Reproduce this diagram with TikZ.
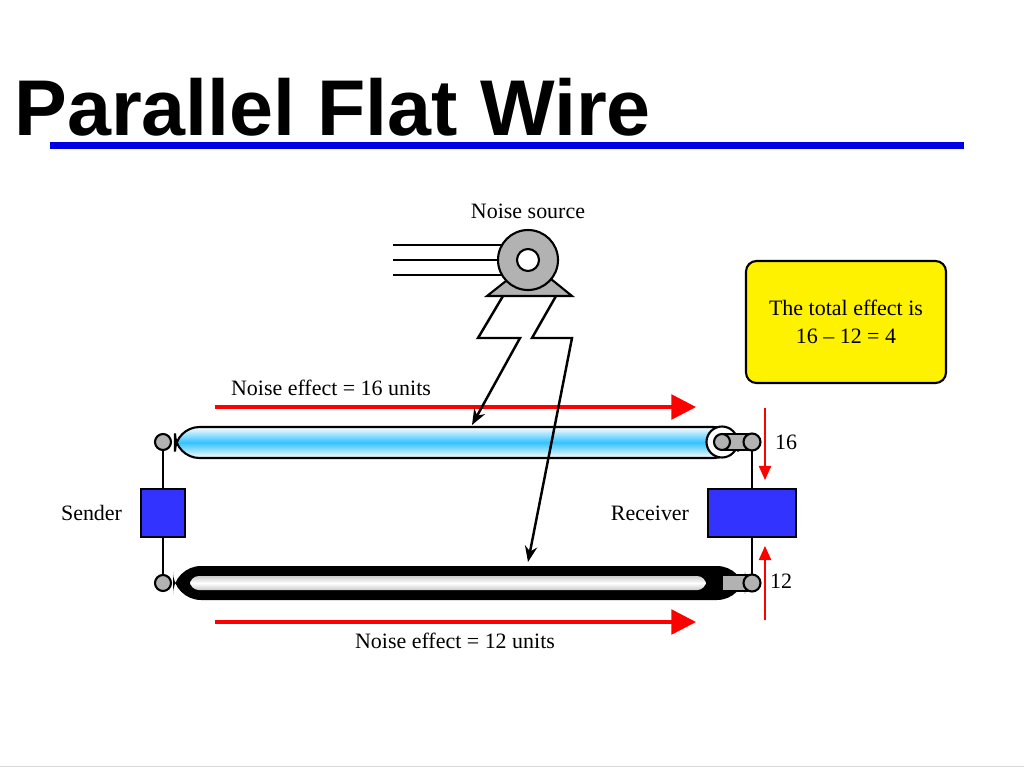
\documentclass[tikz,border=0pt]{standalone}
\usepackage{fontspec}
\setmainfont{Liberation Serif}
\newfontfamily\titlefont{Liberation Sans}
\usetikzlibrary{arrows.meta,positioning}
\definecolor{boxblue}{RGB}{51,51,255}
\tikzset{
  lbl/.style={font=\fontsize{12.5}{14}\selectfont, inner sep=0pt},
  box/.style={draw=black, fill=boxblue, line width=1.2pt},
  noise/.style={red, line width=2pt, -{Triangle[length=14pt,width=14pt]}},
  tick/.style={red, line width=0.8pt, -{Triangle[length=8pt,width=7pt]}},
  bolt/.style={black, line width=1.4pt, -{Stealth[length=9pt,width=7pt]}},
  endcap/.style={draw=black, fill=gray!60, line width=1.2pt}
}
\begin{document}
\begin{tikzpicture}[x=0.02cm,y=-0.02cm]
  \useasboundingbox (0,0) rectangle (1024,768);
  % title
  \node[anchor=base west, inner sep=0pt, font=\titlefont\bfseries\fontsize{45}{50}\selectfont] (title) at (14,135) {Parallel Flat Wire};
  \fill[blue!90!black] (50,142) rectangle (964,149);
  \draw[gray!30] (0,766) -- (1024,766);

  % noise source
  \node[lbl] (src) at (528,211) {Noise source};
  \foreach \y in {245,260,275} \draw[line width=1pt] (393,\y) -- (515,\y);
  \draw[endcap] (487,296) -- (572,296) -- (530,262) -- cycle;
  \draw[endcap] (528,260) circle (30);
  \draw[line width=1.2pt, fill=white] (528,260) circle (11);

  % wires
  \coordinate (tl) at (163,442);
  \coordinate (tr) at (752,442);
  \coordinate (bl) at (163,583);
  \coordinate (br) at (752,583);
  \draw[line width=1.2pt] (tl) -- (bl) (tr) -- (br);
  \draw[endcap] (tl) circle (8);
  \draw[endcap] (bl) circle (8);
  % top wire
  \shade[top color=white, bottom color=white, middle color=cyan!70!blue!80, rounded corners=14pt] (175,427) rectangle (738,458);
  \draw[line width=1.2pt, rounded corners=14pt] (175,427) rectangle (738,458);
  \draw[line width=1.2pt, fill=white] (722,442) circle (15.5);
  \draw[endcap] (722,434) rectangle (748,450);
  \draw[line width=1.2pt, fill=gray!60] (722,442) circle (8);
  \draw[endcap] (tr) circle (8.5);
  % bottom wire
  \fill[black, rounded corners=16pt] (173,566) rectangle (745,600);
  \shade[top color=gray!40, bottom color=gray!40, middle color=white, rounded corners=5pt] (190,576) rectangle (706,590);
  \draw[endcap] (722,575) rectangle (748,591);
  \draw[endcap] (br) circle (8.5);

  % sender and receiver
  \node[box, minimum width=44*0.02cm, minimum height=48*0.02cm, inner sep=0pt] (sender) at (163,513) {};
  \node[box, minimum width=88*0.02cm, minimum height=48*0.02cm, inner sep=0pt] (receiver) at (752,513) {};
  \node[lbl, left=10pt of sender] (sendlbl) {Sender};
  \node[lbl, left=10pt of receiver] (reclbl) {Receiver};

  % noise arrows
  \coordinate (n1a) at (215,407);
  \coordinate (n1b) at (696,407);
  \coordinate (n2a) at (215,622);
  \coordinate (n2b) at (696,622);
  \draw[noise] (n1a) -- (n1b);
  \draw[noise] (n2a) -- (n2b);
  \node[lbl] (eff16) at (331,388) {Noise effect = 16 units};
  \node[lbl] (eff12) at (455,641) {Noise effect = 12 units};

  % coupling bolts
  \coordinate (h1) at (472,425);
  \coordinate (h2) at (528,562);
  \draw[bolt] (503,296) -- (478,338) -- (520,338) -- (h1);
  \draw[bolt] (556,296) -- (532,338) -- (572,338) -- (h2);

  % induced values
  \coordinate (t1a) at (765,408);
  \coordinate (t1b) at (765,480);
  \coordinate (t2a) at (765,620);
  \coordinate (t2b) at (765,546);
  \draw[tick] (t1a) -- (t1b);
  \draw[tick] (t2a) -- (t2b);
  \node[lbl] (v16) at (786,442) {16};
  \node[lbl] (v12) at (781,581) {12};

  % result
  \node[draw=black, line width=1.2pt, fill=yellow, rounded corners=6pt,
        minimum width=200*0.02cm, minimum height=122*0.02cm, align=center,
        font=\fontsize{12.5}{16}\selectfont] (total) at (846,322) {The total effect is\\16 -- 12 = 4};
\end{tikzpicture}
\end{document}
